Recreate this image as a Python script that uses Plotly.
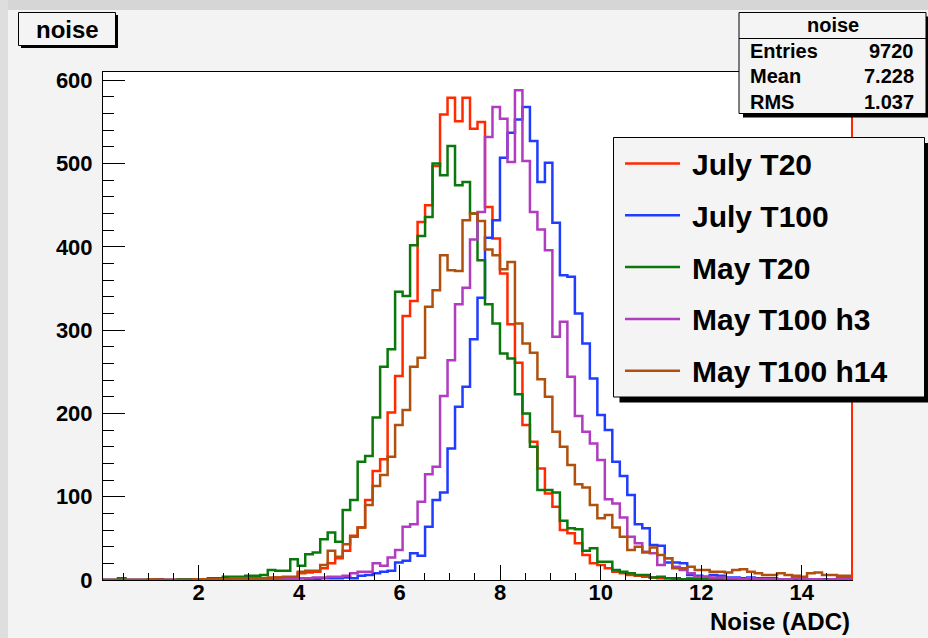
import plotly.graph_objects as go

# ---------------- data ----------------
XMIN, XMAX, NBINS = 0.1, 15.0, 100
YMAX = 610

series_names = ["July T20", "July T100", "May T20", "May T100 h3", "May T100 h14"]
series_colors = ["#ff2a00", "#1f3cff", "#0b780b", "#b03cbf", "#b0500c"]

july_t20 = [0, 0, 0, 0, 0, 0, 0, 1, 0, 0,
            0, 1, 0, 0, 1, 1, 0, 1, 1, 2,
            1, 2, 2, 3, 3, 3, 8, 9, 10, 14,
            20, 26, 35, 53, 63, 96, 131, 145, 201, 245,
            317, 335, 430, 450, 497, 559, 579, 551, 579, 542,
            550, 448, 410, 368, 307, 261, 186, 166, 134, 104,
            88, 60, 56, 44, 30, 20, 18, 14, 10, 8,
            6, 5, 4, 3, 2, 2, 1, 1, 2, 1,
            1, 1, 0, 1, 1, 0, 1, 0, 1, 0,
            1, 0, 1, 1, 0, 1, 1, 1, 2, 3]

july_t100 = [0, 0, 0, 0, 0, 0, 0, 0, 0, 0,
             0, 0, 0, 0, 0, 0, 0, 0, 0, 0,
             0, 0, 0, 0, 1, 1, 2, 1, 1, 2,
             2, 2, 3, 2, 5, 6, 8, 10, 11, 21,
             23, 32, 29, 64, 96, 105, 158, 208, 232, 289,
             339, 411, 432, 507, 537, 553, 568, 527, 478, 501,
             429, 366, 364, 320, 284, 242, 198, 180, 142, 125,
             102, 67, 62, 42, 41, 21, 21, 20, 6, 5,
             4, 6, 5, 3, 3, 2, 3, 2, 2, 2,
             1, 1, 2, 1, 1, 1, 1, 0, 1, 1]

may_t20 = [0, 0, 2, 0, 0, 0, 1, 0, 0, 0,
           1, 1, 0, 0, 2, 2, 4, 4, 4, 5,
           5, 6, 12, 11, 11, 25, 17, 31, 33, 49,
           57, 46, 84, 96, 142, 149, 195, 256, 277, 346,
           341, 402, 413, 436, 500, 486, 521, 474, 478, 440,
           384, 331, 308, 272, 266, 223, 200, 160, 108, 108,
           105, 71, 62, 61, 35, 38, 22, 22, 12, 10,
           8, 6, 6, 3, 4, 2, 2, 1, 1, 1,
           1, 0, 1, 0, 0, 1, 0, 0, 1, 0,
           0, 0, 0, 1, 0, 0, 0, 0, 0, 1]

may_t100_h3 = [0, 0, 0, 0, 0, 0, 0, 0, 0, 0,
               0, 0, 0, 0, 0, 0, 0, 0, 0, 0,
               0, 0, 0, 1, 1, 1, 2, 2, 3, 3,
               4, 4, 5, 8, 10, 10, 20, 17, 27, 36,
               64, 67, 94, 127, 136, 221, 264, 331, 351, 409,
               442, 532, 568, 554, 502, 588, 503, 442, 421, 396,
               292, 310, 244, 197, 178, 164, 144, 97, 92, 75,
               52, 44, 34, 32, 18, 26, 16, 12, 8, 4,
               4, 3, 3, 2, 2, 1, 2, 1, 1, 1,
               1, 1, 2, 1, 1, 1, 0, 1, 1, 1]

may_t100_h14 = [0, 0, 0, 0, 0, 0, 1, 0, 0, 0,
                0, 0, 1, 1, 1, 1, 1, 2, 2, 2,
                2, 2, 3, 3, 4, 4, 10, 11, 11, 18,
                35, 28, 43, 52, 63, 90, 113, 126, 148, 186,
                204, 256, 267, 328, 348, 390, 372, 371, 432, 440,
                431, 397, 390, 373, 382, 308, 284, 273, 241, 220,
                178, 160, 138, 115, 111, 90, 74, 78, 63, 52,
                36, 40, 33, 39, 30, 26, 14, 14, 16, 12,
                12, 10, 10, 9, 12, 13, 10, 8, 6, 6,
                8, 6, 5, 4, 8, 9, 6, 6, 5, 5]

all_series = [july_t20, july_t100, may_t20, may_t100_h3, may_t100_h14]

stats_title = "noise"
stats_rows = [("Entries", "9720"), ("Mean", "7.228"), ("RMS", "1.037")]
x_ticks = [2, 4, 6, 8, 10, 12, 14]
y_ticks = [0, 100, 200, 300, 400, 500, 600]

# ---------------- layout helpers ----------------
W, H = 928, 638
ML, MR, MT, MB = 103, 76, 72, 58
PW, PH = W - ML - MR, H - MT - MB


def px(x):
    return (x - ML) / PW


def py(y):
    return (H - MB - y) / PH


FONT = "Liberation Sans, Arial, Helvetica, sans-serif"

edges = [XMIN + i * (XMAX - XMIN) / NBINS for i in range(NBINS + 1)]

fig = go.Figure()
for name, color, counts in zip(series_names, series_colors, all_series):
    fig.add_trace(go.Scatter(
        x=edges, y=list(counts) + [counts[-1]], mode="lines", name=name,
        line=dict(shape="hv", color=color, width=2.5),
        showlegend=False, hoverinfo="skip"))

shapes = []
annotations = []


def rect(x0, y0, x1, y1, fill, line_color=None, lw=1, layer="above"):
    shapes.append(dict(type="rect", xref="paper", yref="paper",
                       x0=px(x0), x1=px(x1), y0=py(y1), y1=py(y0),
                       fillcolor=fill, layer=layer,
                       line=dict(color=line_color or fill, width=lw if line_color else 0)))


def text(x, y, s, size, xanchor="left"):
    annotations.append(dict(xref="paper", yref="paper", x=px(x), y=py(y), text=s,
                            showarrow=False, xanchor=xanchor, yanchor="middle",
                            font=dict(family=FONT, size=size, color="black", weight="bold")))


# outer (screen) border around the canvas
rect(-5, -5, 935, 10, "#d6d6d6", layer="below")
rect(-5, -5, 8, 645, "#dedede", layer="below")

# red right-edge line of the first histogram frame
shapes.append(dict(type="line", xref="paper", yref="paper", x0=1, x1=1, y0=0, y1=1,
                   line=dict(color=series_colors[0], width=2), layer="above"))

# title box
rect(21, 15, 118, 48, "#000000")
rect(18.5, 12.5, 115.5, 45.5, "#f4f4f4", "#000000", 1)
text(67, 29.5, "noise", 24, "center")

# stats box
rect(743, 16.5, 932, 117.5, "#000000")
rect(739, 12.5, 926, 113.5, "#f4f4f4", "#000000", 1)
shapes.append(dict(type="line", xref="paper", yref="paper", x0=px(739), x1=px(926),
                   y0=py(38.5), y1=py(38.5), line=dict(color="black", width=1), layer="above"))
text(832.5, 25.5, stats_title, 20, "center")
for k, (lab, val) in enumerate(stats_rows):
    yy = 50.5 + k * 25.5
    text(748, yy, lab, 20, "left")
    text(916, yy, val, 20, "right")

# legend box
rect(619.5, 143, 930, 402.5, "#000000")
rect(613.5, 137.5, 924.5, 397, "#f4f4f4", "#000000", 1)
for k, (name, color) in enumerate(zip(series_names, series_colors)):
    yy = 163.5 + k * 51.8
    shapes.append(dict(type="line", xref="paper", yref="paper", x0=px(625), x1=px(680),
                       y0=py(yy), y1=py(yy), line=dict(color=color, width=2.5), layer="above"))
    text(690, yy + 1, name, 30, "left")

# axis title
text(852, 621, "Noise (ADC)", 24, "right")

fig.update_layout(
    width=W, height=H,
    margin=dict(l=ML, r=MR, t=MT, b=MB, pad=0),
    paper_bgcolor="#f3f3f3", plot_bgcolor="#ffffff",
    shapes=shapes, annotations=annotations,
    font=dict(family=FONT, size=22, color="black", weight="bold"),
    xaxis=dict(range=[XMIN, XMAX], tickvals=x_ticks, ticks="inside", ticklen=15,
               tickcolor="black", tickwidth=1, showgrid=False, zeroline=False,
               showline=True, linecolor="black", linewidth=1, mirror=True,
               ticklabelstandoff=-7,
               tickfont=dict(family=FONT, size=22, color="black", weight="bold"),
               minor=dict(dtick=0.5, tick0=0, ticks="inside", ticklen=7,
                          tickcolor="black", tickwidth=1, showgrid=False)),
    yaxis=dict(range=[0, YMAX], tickvals=y_ticks, ticks="inside", ticklen=22,
               tickcolor="black", tickwidth=1, showgrid=False, zeroline=False,
               showline=True, linecolor="black", linewidth=1, mirror=True,
               ticklabelstandoff=5,
               tickfont=dict(family=FONT, size=22, color="black", weight="bold"),
               minor=dict(dtick=20, tick0=0, ticks="inside", ticklen=11,
                          tickcolor="black", tickwidth=1, showgrid=False)),
)

fig.write_html("out.html", config={"displayModeBar": False, "staticPlot": True})

# remove the browser's default body margin so the figure sits at the page origin
with open("out.html", "r", encoding="utf-8") as f:
    html = f.read()
html = html.replace("<head>", "<head><style>html,body{margin:0;padding:0;overflow:hidden;}</style>", 1)
with open("out.html", "w", encoding="utf-8") as f:
    f.write(html)
